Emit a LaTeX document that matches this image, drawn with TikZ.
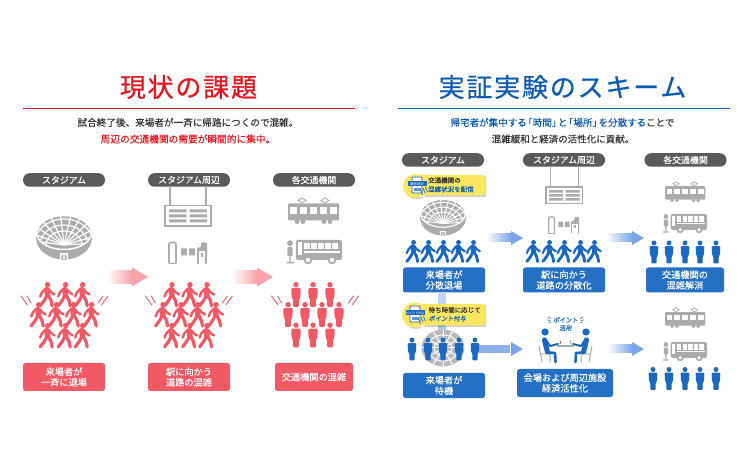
\documentclass[tikz,border=0pt]{standalone}
\usepackage{fontspec}
\setmainfont{Noto Sans CJK JP}
\newfontfamily\jpbold{Noto Sans CJK JP}[FakeBold=0.25]
\newfontfamily\jpmed{Noto Sans CJK JP}[FakeBold=0.1]
\newfontfamily\jptitle{Noto Sans CJK JP}[FakeBold=0.6,LetterSpace=7]
\newfontfamily\jpslant{Noto Sans CJK JP}[FakeBold=0.25,FakeSlant=0.15]
\usetikzlibrary{calc}
\definecolor{redtitle}{HTML}{E8141E}
\definecolor{redfig}{HTML}{F15A64}
\definecolor{redarrow}{HTML}{F9A3A8}
\definecolor{bluetitle}{HTML}{0B5CB0}
\definecolor{blueline}{HTML}{1A6FD0}
\definecolor{bluefig}{HTML}{1A68BF}
\definecolor{bluebox}{HTML}{2470C4}
\definecolor{bluearrow}{HTML}{79A5E8}
\definecolor{greyfig}{HTML}{ABABAB}
\definecolor{pillgrey}{HTML}{5A5A5A}
\definecolor{inktext}{HTML}{333333}
\definecolor{callout}{HTML}{FCE660}
\newcommand{\lbk}{\kern-3.4pt「}
\newcommand{\rbk}{」\kern-3.4pt}
\tikzset{
  headpill/.style={draw=none,fill=pillgrey,rounded corners=6.5pt,minimum height=13.5pt,inner sep=0pt,
    text=white,font=\jpbold\fontsize{8.9}{10}\selectfont},
  capbox/.style={fill=#1,rounded corners=2.5pt,inner sep=0pt,text=white,align=center,
    font=\jpbold\fontsize{9.2}{10.6}\selectfont},
  leadtext/.style={font=\jpmed\fontsize{#1}{12}\selectfont,inner sep=0pt},
  headline/.style={font=\jptitle\fontsize{26}{30}\selectfont,inner sep=0pt},
  calloutbody/.style={fill=callout},
  calloutlabel/.style={anchor=west,inner sep=0pt,font=\jpbold\fontsize{6.5}{8}\selectfont},
}
% figure walking to the right; (x,y) is the top of the head
\newcommand{\walkfig}[4]{%
  \begin{scope}[shift={(#1,#2)},scale=#3,#4,line cap=round,line join=round]
    \fill (0.6,2.7) circle (2.7);
    \draw[line width=#3*5.4pt] (-0.2,7.6) -- (0.6,13);
    \draw[line width=#3*2.4pt] (-1.8,6.8) -- (-5.2,10.6) -- (-6.8,14.5);
    \draw[line width=#3*2.4pt] (1.4,6.8) -- (4.4,10.4) -- (7.6,12.5);
    \draw[line width=#3*3.2pt] (-0.4,14) -- (-2.8,18.6) -- (-6.8,23.8);
    \draw[line width=#3*3.2pt] (1.6,14) -- (4,18.4) -- (5.2,24);
  \end{scope}}
% figure standing still; (x,y) is the top of the head
\newcommand{\standfig}[4]{%
  \begin{scope}[shift={(#1,#2)},scale=#3,#4]
    \fill (0,2.7) circle (2.7);
    \fill[rounded corners=1pt] (-4.7,6.2) -- (4.7,6.2) -- (4.4,15.5) -- (3,17) -- (2.7,25) -- (-2.7,25) -- (-3,17) -- (-4.4,15.5) -- cycle;
  \end{scope}}
% stadium seen from the side, centred on (x,y)
\newcommand{\arena}[3]{%
  \begin{scope}[shift={(#1,#2)},scale=#3]
    \fill[greyfig] (0,0.6) ellipse (28 and 22);
    \draw[white,line width=#3*1.5pt] (0,-4.5) ellipse (27.6 and 17);
    \begin{scope}
      \clip (0,-4.5) ellipse (27 and 16.5);
      \foreach \a in {190,205,...,355} {\draw[white,line width=#3*1.2pt] (0,8) -- ++(\a:44 and 34);}
      \draw[white,line width=#3*1.2pt] (0,8) ellipse (18 and 14) (0,8) ellipse (24 and 20) (0,8) ellipse (30 and 26);
    \end{scope}
    \fill[white] (-4,16.5) rectangle (4,22.4);
    \fill[greyfig] (-2.7,18) rectangle (-0.6,22.4) (0.6,18) rectangle (2.7,22.4);
  \end{scope}}
% hanging sign board, (x,y) is its top-left corner
\newcommand{\signboard}[4]{%
  \begin{scope}[shift={(#1,#2)},scale=#3,greyfig]
    \draw[line width=#3*1.1pt] (5,-#4/#3) -- (5,0) (41,-#4/#3) -- (41,0);
    \draw[line width=#3*1.4pt] (0,0) rectangle (46,20.5);
    \foreach \r in {4,9,14}
      {\fill (4,\r) rectangle (21.5,\r+3) (24.5,\r) rectangle (42,\r+3);}
  \end{scope}}
% ticket gate, (x,y) is its top-left corner
\newcommand{\gatefig}[3]{%
  \begin{scope}[shift={(#1,#2)},scale=#3,greyfig]
    \draw[line width=#3*1.6pt,rounded corners=2pt] (1,22) -- (1,1) -- (8,1) -- (8,22);
    \draw[line width=#3*1.6pt] (1,22) -- (8,22);
    \fill (13,7) rectangle (19,14) (21,7) rectangle (27,14);
    \fill[rounded corners=1.2pt] (29,22.5) -- (29,6) -- (33,6) -- (33,1) -- (39,1) -- (39,22.5) -- cycle;
    \fill[white] (30.5,10) rectangle (37,22.5);
    \fill (33,11.5) rectangle (35,15.5);
  \end{scope}}
% tram with two pantographs, (x,y) is its top-left corner
\newcommand{\tramfig}[3]{%
  \begin{scope}[shift={(#1,#2)},scale=#3,greyfig]
    \draw[line width=#3*0.9pt] (14,1) -- (18,3.5) -- (14,6) -- (10,3.5) -- cycle (37,1) -- (41,3.5) -- (37,6) -- (33,3.5) -- cycle;
    \fill[rounded corners=1pt] (0,6.5) rectangle (51,23.5);
    \foreach \w in {2,12,22,32,42} {\fill[white] (\w,10) rectangle +(7,7);}
    \foreach \w in {9,15,36,42} {\fill (\w,24.6) circle (2.4);}
  \end{scope}}
% bus with its stop pole, (x,y) is the top-left corner of the pole
\newcommand{\busfig}[3]{%
  \begin{scope}[shift={(#1,#2)},scale=#3,greyfig]
    \fill (5,3.2) circle (3);
    \fill[rounded corners=1pt] (2.4,7) rectangle (7.6,16);
    \fill (4.3,16) rectangle (5.7,22) (1.5,22) rectangle (8.5,23.5);
    \fill[rounded corners=2pt] (11,0) rectangle (57,20);
    \fill[white] (13,2.5) rectangle (17,15) ;
    \foreach \w in {19,26,33,40,47} {\fill[white] (\w,3) rectangle +(5.6,6.5);}
    \fill[white] (19,11.5) rectangle (55,12.6);
    \foreach \w in {23,47} {\fill[greyfig] (\w,20) circle (4.4); \fill[white] (\w,20) circle (2.2);}
  \end{scope}}
% broad arrow fading in from white
\newcommand{\flowarrow}[8]{% x1,x2,y,tip colour,half shaft,half head,head length,node name
  \shade[left color=white,right color=#4] (#1,#3-#5) rectangle (#2-#7+0.2,#3+#5);
  \fill[#4] (#2-#7,#3-#6) -- (#2,#3) -- (#2-#7,#3+#6) -- cycle;
  \coordinate (#8) at (#2,#3);}
% short strokes flanking a crowd
\newcommand{\shockmarks}[1]{%
  \begin{scope}[shift={(#1,0)},line cap=round,redfig,line width=0.9pt]
    \draw (21,296) -- (27.5,305) (27,296) -- (31,303);
    \draw (108,296) -- (101.5,305) (103,296) -- (98,303);
  \end{scope}}
\begin{document}
\begin{tikzpicture}[x=1pt,y=-1pt]
\useasboundingbox (0,0) rectangle (750,470);

% ---- left panel -------------------------------------------------------
\node[headline,text=redtitle] (lefttitle) at (188.5,87) {現状の課題};
\draw[redtitle,line width=1pt] (23,108.5) -- (355,108.5);
\node[leadtext=9.6,text=inktext] (leftline1) at (188,122.5) {試合終了後、来場者が一斉に帰路につくので混雑。};
\node[leadtext=9.7,text=redtitle] (leftline2) at (188,139) {周辺の交通機関の需要が瞬間的に集中。};

\node[headpill,minimum width=82pt] (lpill1) at (64,180) {スタジアム};
\node[headpill,minimum width=82pt] (lpill2) at (189,180) {スタジアム周辺};
\node[headpill,minimum width=82pt] (lpill3) at (314,180) {各交通機関};

\arena{64}{237}{1}
\signboard{165}{205.5}{1}{19}
\gatefig{168}{241.5}{1}
\tramfig{288}{197}{1}
\busfig{285}{240}{1}

\flowarrow{107}{148}{277}{redarrow}{6.5}{9.5}{16}{larrowA}
\flowarrow{232}{273}{277}{redarrow}{6.5}{9.5}{16}{larrowB}

\foreach \cx in {0,124.4} {
  \foreach \x in {47,65,82} {\walkfig{\x+\cx}{282}{1}{redfig}}
  \foreach \x in {38,56,73,91} {\walkfig{\x+\cx}{302}{1}{redfig}}
  \foreach \x in {47,65,82} {\walkfig{\x+\cx}{323}{1}{redfig}}
  \shockmarks{\cx}
}
\foreach \x in {296,313,330} {\standfig{\x}{282}{1}{redfig}\standfig{\x}{322.5}{1}{redfig}}
\foreach \x in {288,305,322,339} {\standfig{\x}{302}{1}{redfig}}
\shockmarks{250.5}

\node[capbox=redfig,minimum width=82pt,minimum height=28pt] (lcap1) at (64,377) {来場者が\\一斉に退場};
\node[capbox=redfig,minimum width=82pt,minimum height=28pt] (lcap2) at (189,377) {駅に向かう\\道路の混雑};
\node[capbox=redfig,minimum width=78pt,minimum height=28pt] (lcap3) at (314,377) {交通機関の混雑};

% ---- right panel ------------------------------------------------------
\node[headline,text=bluetitle] (righttitle) at (562.5,87) {実証実験のスキーム};
\draw[blueline,line width=1pt] (398,108.5) -- (730,108.5);
\node[leadtext=9.5,text=inktext] (rightline1) at (562.5,122.5) {\textcolor{bluetitle}{帰宅者が集中する\lbk 時間\rbk と\lbk 場所\rbk を分散する}ことで};
\node[leadtext=9.5,text=inktext] (rightline2) at (563,139) {混雑緩和と経済の活性化に貢献。};

\node[headpill,minimum width=82pt] (rpill1) at (443,160) {スタジアム};
\node[headpill,minimum width=82pt] (rpill2) at (564,160) {スタジアム周辺};
\node[headpill,minimum width=82pt] (rpill3) at (685.5,160) {各交通機関};

% first row: staggered departure
\arena{443}{217}{0.82}
\signboard{546}{187}{0.8}{20}
\gatefig{548}{216}{0.8}
\tramfig{665}{181}{0.79}
\busfig{662}{214}{0.79}

\foreach \x in {413,428,443,458,473} {\walkfig{\x}{240}{0.9}{bluefig}}
\foreach \x in {533,549,564,580,594} {\walkfig{\x}{240}{0.9}{bluefig}}
\foreach \x in {654,669,685,700,716} {\standfig{\x}{240.5}{0.92}{bluefig}}

\flowarrow{486}{523}{238}{bluearrow}{4}{7}{12}{rarrowA}
\flowarrow{606}{644}{238}{bluearrow}{4}{7}{12}{rarrowB}

\node[capbox=bluebox,minimum width=82pt,minimum height=25pt] (rcap1) at (444,280) {来場者が\\分散退場};
\node[capbox=bluebox,minimum width=82pt,minimum height=25pt] (rcap2) at (564,280) {駅に向かう\\道路の分散化};
\node[capbox=bluebox,minimum width=78pt,minimum height=25pt] (rcap3) at (685,280) {交通機関の\\混雑解消};

% link from the first row down to the waiting stadium
\shade[top color=bluearrow!45,bottom color=bluearrow!65] (438,293) rectangle (446,332);

% second row: waiting stadium, seen from above, pale behind the figures
\begin{scope}
  \clip (443,348) ellipse (21.5 and 18.5);
  \fill[greyfig!85] (420,325) rectangle (466,371);
  \foreach \a in {0,30,...,330} {\draw[white,line width=1pt] (443,348) -- ++(\a:24);}
  \draw[white,line width=1pt] (443,348) ellipse (9 and 7.5) (443,348) ellipse (15.5 and 13);
\end{scope}
\fill[bluearrow!85] (479,345) rectangle (511.2,353);
\flowarrow{510}{523}{349}{bluearrow}{4}{7}{12}{rarrowC}
\foreach \x in {412,428,443,459,475} {\standfig{\x}{337.5}{0.92}{bluefig}}

% yellow notices with their phone icons
\fill[black,opacity=0.18] (416.5,187.5) circle (12) (416.5,176) rectangle (486,197);
\fill[black,opacity=0.18] (416,316.5) circle (12.5) (416,305) rectangle (486,327);
\fill[calloutbody,rounded corners=3pt] (414,175) rectangle (485,195.5);
\fill[calloutbody] (415,186) circle (12);
\fill[calloutbody,rounded corners=3pt] (414,304) rectangle (485,325.5);
\fill[calloutbody] (414.5,315) circle (12.5);
\foreach \x/\y in {417/186,415/315} {
  \draw[bluefig,fill=white,line width=0.8pt,rounded corners=1pt] (\x-5,\y-9) rectangle (\x+5,\y+7);
  \fill[bluefig] (\x-9.5,\y-4.5) rectangle (\x+9.5,\y+0.5);
  \fill[bluefig!70] (\x-3.5,\y+2) rectangle (\x+3.5,\y+5.5);
  \draw[bluefig,line width=0.7pt,line cap=round] (\x+6,\y+2) -- (\x+8,\y+7) (\x+8.5,\y+1.5) -- (\x+10.5,\y+6) (\x+3.5,\y+3.5) -- (\x+5.5,\y+8.5);
}
\node[inner sep=0pt,text=white,font=\fontsize{3.4}{4}\selectfont] (iconA) at (417,184) {最新状況};
\node[inner sep=0pt,text=white,font=\fontsize{3}{4}\selectfont] (iconB) at (415,313) {ポイント付与};
\node[calloutlabel,text=inktext] (noteA1) at (428,180.3) {交通機関の};
\node[calloutlabel,text=bluetitle] (noteA2) at (428,189.3) {混雑状況を配信};
\node[calloutlabel,text=inktext] (noteB1) at (428.5,310) {待ち時間に応じて};
\node[calloutlabel,text=bluetitle,font=\jpslant\fontsize{6.2}{8}\selectfont] (noteB2) at (428.5,318.5) {ポイント付与};

\node[capbox=bluebox,minimum width=82pt,minimum height=25pt] (rcap4) at (444,385.5) {来場者が\\待機};
\node[capbox=bluebox,minimum width=96pt,minimum height=28pt] (rcap5) at (565,383) {会場および周辺施設\\経済活性化};

% two people at a table spending points
\node[inner sep=0pt,text=bluefig,align=center,font=\jpslant\fontsize{6.2}{8}\selectfont] (spendnote) at (565.5,324) {ポイント\\活用};
\draw[bluefig,line width=0.6pt,line cap=round] (548,317) -- (551,318.5) (547.5,320) -- (550,320.5) (548.5,323) -- (551,322) (583,317) -- (580,318.5) (583.5,320) -- (581,320.5) (582.5,323) -- (580,322);
\foreach \m/\o in {1/0,-1/1131} {
  \begin{scope}[shift={(\o,0)},xscale=\m]
    \draw[greyfig,line width=1pt,line cap=round] (539,346) -- (542,362) (541,354) -- (550,354) -- (550,362);
    \fill[bluefig] (545,332) circle (3.6);
    \draw[bluefig,line width=5pt,line cap=round,line join=round] (544.5,340) -- (547.5,352);
    \draw[bluefig,line width=2pt,line cap=round,line join=round] (545,338.5) -- (550,346) -- (558,344);
    \draw[bluefig,line width=2.6pt,line cap=round,line join=round] (548,352.5) -- (555,353) -- (555.5,362);
  \end{scope}
}
\fill[greyfig] (557,345) rectangle (574,347.5);
\draw[inktext,line width=0.5pt] (560,344) -- (561,341) (570,344) -- (570,340);

\flowarrow{607}{644}{349}{bluearrow}{4}{7}{12}{rarrowD}
\tramfig{665}{307}{0.79}
\busfig{662}{342}{0.79}
\foreach \x in {653,669,685,700,716} {\standfig{\x}{367}{0.92}{bluefig}}
\end{tikzpicture}
\end{document}
